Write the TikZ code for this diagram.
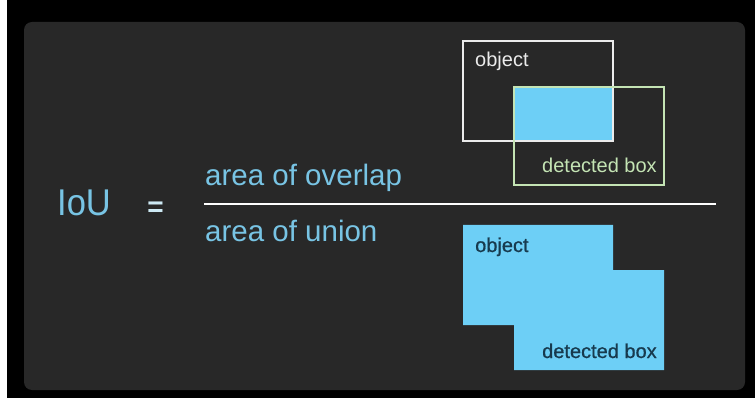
\documentclass[tikz,border=0pt]{standalone}
\usepackage{fontspec}
\setmainfont{Liberation Sans}
\newfontfamily\medsans[FakeBold=0.7]{Liberation Sans}
\definecolor{panelgray}{HTML}{282828}
\definecolor{ioublue}{HTML}{78C4E4}
\definecolor{eqtint}{HTML}{CDE9F4}
\definecolor{fillblue}{HTML}{6DCFF6}
\definecolor{boxgreen}{HTML}{C4E4B4}
\definecolor{labelnavy}{HTML}{173A4E}
\begin{document}
\begin{tikzpicture}[x=1pt,y=-1pt,
  formula/.style={text=ioublue, inner sep=0pt, anchor=base west, font=\fontsize{29.5}{32}\selectfont},
  boxlabel/.style={inner sep=0pt, anchor=base west, font=\fontsize{20}{22}\selectfont},
  unionlabel/.style={boxlabel, text=labelnavy, font=\medsans\fontsize{20}{22}\selectfont},
  outline/.style={line width=2pt}]
  % frame and panel
  \useasboundingbox (0,0) rectangle (755,398);
  \fill[white] (0,0) rectangle (755,398);
  \fill[black] (7,0) rectangle (755,398);
  \fill[panelgray, rounded corners=8pt] (24,22) rectangle (745,390);

  % formula
  \node[formula, font=\fontsize{34.5}{36}\selectfont] (iou) at (57,216) {\scalebox{1}[1.08]{IoU}};
  \node[text=eqtint, inner sep=0pt, font=\bfseries\fontsize{28}{30}\selectfont] (eq) at (155.5,209) {=};
  \node[formula] (num) at (205,186) {area of overlap};
  \node[formula] (den) at (205,241) {area of union};
  \coordinate (barL) at (204,204);
  \coordinate (barR) at (716,204);
  \draw[white, line width=2.2pt] (barL) -- (barR);

  % intersection: overlap of the two boxes
  \fill[fillblue] (514,87) rectangle (613,141);
  \draw[outline, white!92!black] (463,41) rectangle (613,141);
  \draw[outline, boxgreen] (514,87) rectangle (664,185);
  \node[boxlabel, text=white!92!black] (objA) at (475,67) {object};
  \node[boxlabel, text=boxgreen] (detA) at (542,173) {detected box};

  % union of the two boxes
  \fill[fillblue] (463,225) -- (613,225) -- (613,270) -- (664,270) -- (664,370)
    -- (514,370) -- (514,325) -- (463,325) -- cycle;
  \node[unionlabel] (objB) at (475,252) {object};
  \node[unionlabel] (detB) at (542,358) {detected box};
\end{tikzpicture}
\end{document}
